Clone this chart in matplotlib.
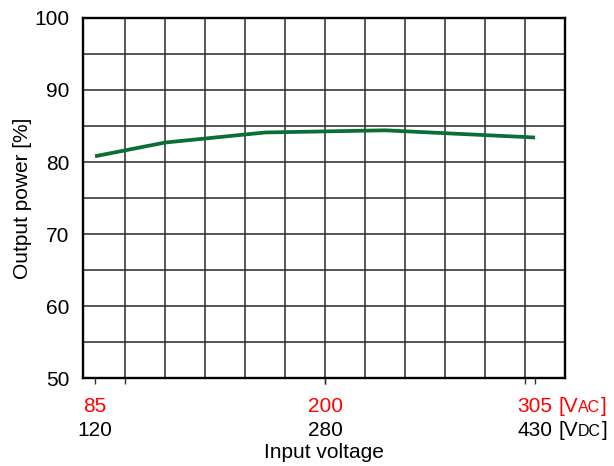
import matplotlib
matplotlib.use("Agg")
import matplotlib.pyplot as plt
import numpy as np

plt.rcParams['font.family'] = ['Liberation Sans', 'DejaVu Sans']

# Data
voltage_ac = [85, 120, 170, 230, 305]
output_power = [80.8, 82.7, 84.1, 84.4, 83.4]
ac_tick_values = [85, 200, 305]
dc_tick_labels = ["120", "280", "430"]
y_ticks = [50, 60, 70, 80, 90, 100]

fs = 15
fs_small = 11.5

fig = plt.figure(figsize=(6.14, 4.66), dpi=100)
ax = fig.add_axes([0.1352, 0.1888, 0.785, 0.7726])

ax.set_xlim(79, 320)
ax.set_ylim(50, 100)

# grid
for gx in np.arange(100, 320, 20):
    ax.axvline(gx, color='#2a2a2a', lw=1.1, zorder=1)
for gy in np.arange(55, 100, 5):
    ax.axhline(gy, color='#2a2a2a', lw=1.1, zorder=1)

ax.plot(voltage_ac, output_power, color='#0b6e35', lw=2.7, zorder=3,
        solid_capstyle='butt')

for s in ax.spines.values():
    s.set_linewidth(1.7)
    s.set_color('black')

ax.set_yticks(y_ticks)
ax.set_yticklabels([str(v) for v in y_ticks], fontsize=fs)
ax.tick_params(axis='y', length=0, pad=10)

# bottom ticks
ax.set_xticks(ac_tick_values + [100, 200, 300])
ax.set_xticklabels([])
ax.tick_params(axis='x', direction='out', length=4, width=1.0, color='#333333')

trans = ax.get_xaxis_transform()
y_red = -0.093
y_black = -0.160
red_texts, black_texts = [], []
for v, dc in zip(ac_tick_values, dc_tick_labels):
    red_texts.append(ax.text(v, y_red, str(v), transform=trans, ha='center',
                             va='baseline', color='#ff0000', fontsize=fs))
    black_texts.append(ax.text(v, y_black, dc, transform=trans, ha='center',
                               va='baseline', color='black', fontsize=fs))

fig.canvas.draw()
renderer = fig.canvas.get_renderer()
inv = ax.transData.inverted()

def x_after(artist, gap_px=0.0):
    bb = artist.get_window_extent(renderer)
    return inv.transform((bb.x1 + gap_px, bb.y0))[0]

for tt, y, small, color in [(red_texts[-1], y_red, "AC", '#ff0000'),
                            (black_texts[-1], y_black, "DC", 'black')]:
    x0 = x_after(tt, 5.5)
    t1 = ax.text(x0, y, "[V", transform=trans, ha='left', va='baseline',
                 color=color, fontsize=fs)
    fig.canvas.draw()
    t2 = ax.text(x_after(t1, 0.5), y, small, transform=trans, ha='left',
                 va='baseline', color=color, fontsize=fs_small)
    fig.canvas.draw()
    ax.text(x_after(t2, 0.5), y, "]", transform=trans, ha='left',
            va='baseline', color=color, fontsize=fs)

ax.set_ylabel("Output power [%]", fontsize=fs)
ax.yaxis.set_label_coords(-0.106, 0.5)
fig.text(0.528, 0.028, "Input voltage", ha='center', va='center', fontsize=fs)

fig.savefig("out.png", dpi=100)
